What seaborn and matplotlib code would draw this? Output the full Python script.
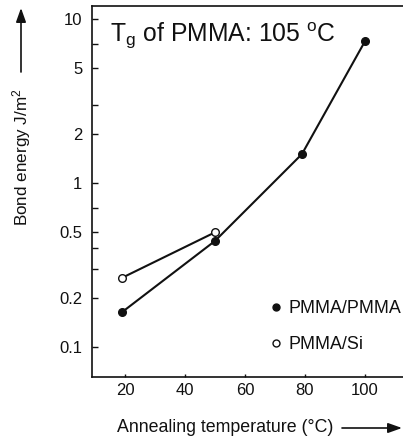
import matplotlib
matplotlib.use("Agg")
import matplotlib.pyplot as plt
from matplotlib.lines import Line2D
from matplotlib.patches import FancyArrowPatch
from matplotlib.ticker import FixedLocator, FixedFormatter, NullFormatter
import seaborn as sns
import pandas as pd

# Bond energy vs. annealing temperature
temp_pmma = [19, 50, 79, 100]
energy_pmma = [0.163, 0.443, 1.50, 7.3]
temp_si = [19, 50]
energy_si = [0.264, 0.50]
series_names = ["PMMA/PMMA", "PMMA/Si"]

x_ticks = [20, 40, 60, 80, 100]
y_ticks = [0.1, 0.2, 0.5, 1, 2, 5, 10]
y_tick_labels = ["0.1", "0.2", "0.5", "1", "2", "5", "10"]
y_minor = [0.3, 0.4, 0.7, 3, 7]

df_pmma = pd.DataFrame({"T": temp_pmma, "E": energy_pmma})
df_si = pd.DataFrame({"T": temp_si, "E": energy_si})

sns.set_theme(style="ticks")
plt.rcParams["font.family"] = ["Liberation Sans", "DejaVu Sans"]
plt.rcParams["mathtext.default"] = "regular"

W, H = 403, 441
fig = plt.figure(figsize=(W / 100, H / 100), dpi=100)
ax = fig.add_axes([92 / W, 1 - 377 / H, 1 - 92 / W, (377 - 6) / H])

ink = "#111111"
sns.lineplot(data=df_pmma, x="T", y="E", ax=ax, color=ink, lw=1.5,
             marker="o", markersize=5.5, markerfacecolor=ink,
             markeredgecolor=ink, markeredgewidth=1.0, legend=False)
sns.lineplot(data=df_si, x="T", y="E", ax=ax, color=ink, lw=1.5,
             marker="o", markersize=5.5, markerfacecolor="white",
             markeredgecolor=ink, markeredgewidth=1.0, legend=False)

ax.set_yscale("log")
ax.set_xlim(9, 112.7)
ax.set_ylim(0.0656, 12.0)

ax.xaxis.set_major_locator(FixedLocator(x_ticks))
ax.yaxis.set_major_locator(FixedLocator(y_ticks))
ax.yaxis.set_major_formatter(FixedFormatter(y_tick_labels))
ax.yaxis.set_minor_locator(FixedLocator(y_minor))
ax.yaxis.set_minor_formatter(NullFormatter())

ax.tick_params(axis="y", which="both", direction="in", length=4.5, width=1.0,
               color=ink, labelsize=12, labelcolor=ink, pad=7)
ax.tick_params(axis="x", which="both", direction="in", length=2.5, width=1.0,
               color=ink, labelsize=12, labelcolor=ink, pad=4)
ax.tick_params(axis="x", which="minor", length=0)

for side in ["left", "bottom", "top"]:
    ax.spines[side].set_color(ink)
    ax.spines[side].set_linewidth(1.2)
ax.spines["right"].set_visible(False)
ax.set_xlabel("")
ax.set_ylabel("")

# Legend with marker-only handles
handles = [
    Line2D([], [], ls="none", marker="o", ms=5, mfc=ink, mec=ink),
    Line2D([], [], ls="none", marker="o", ms=5, mfc="white", mec=ink),
]
fig.legend(handles, series_names, loc="upper left",
           bbox_to_anchor=(271 / W, 1 - 300 / H), bbox_transform=fig.transFigure,
           frameon=False, fontsize=12.9, handlelength=0.6, handletextpad=0.35,
           labelspacing=1.05, borderpad=0, borderaxespad=0, labelcolor=ink)

# Glass transition note
fig.text(110 / W, 1 - 42 / H, r"T$_{g}$ of PMMA: 105 $^{o}$C",
         fontsize=17.8, color=ink, ha="left", va="baseline")

# Axis titles with direction arrows
fig.text(22 / W, 1 - 157 / H, "Bond energy J/m$^{2}$", rotation=90,
         fontsize=12.3, color=ink, ha="center", va="center")
fig.text(225 / W, 1 - 428 / H, "Annealing temperature (°C)",
         fontsize=12.8, color=ink, ha="center", va="center")

arrow = dict(arrowstyle="-|>,head_length=0.7,head_width=0.25", color=ink,
             lw=1.2, shrinkA=0, shrinkB=0, mutation_scale=12)
fig.add_artist(FancyArrowPatch(
    (21 / W, 1 - 72 / H), (21 / W, 1 - 8 / H), transform=fig.transFigure, **arrow))
fig.add_artist(FancyArrowPatch(
    (342 / W, 1 - 428 / H), (402 / W, 1 - 428 / H), transform=fig.transFigure, **arrow))

fig.savefig("out.png", dpi=100)
